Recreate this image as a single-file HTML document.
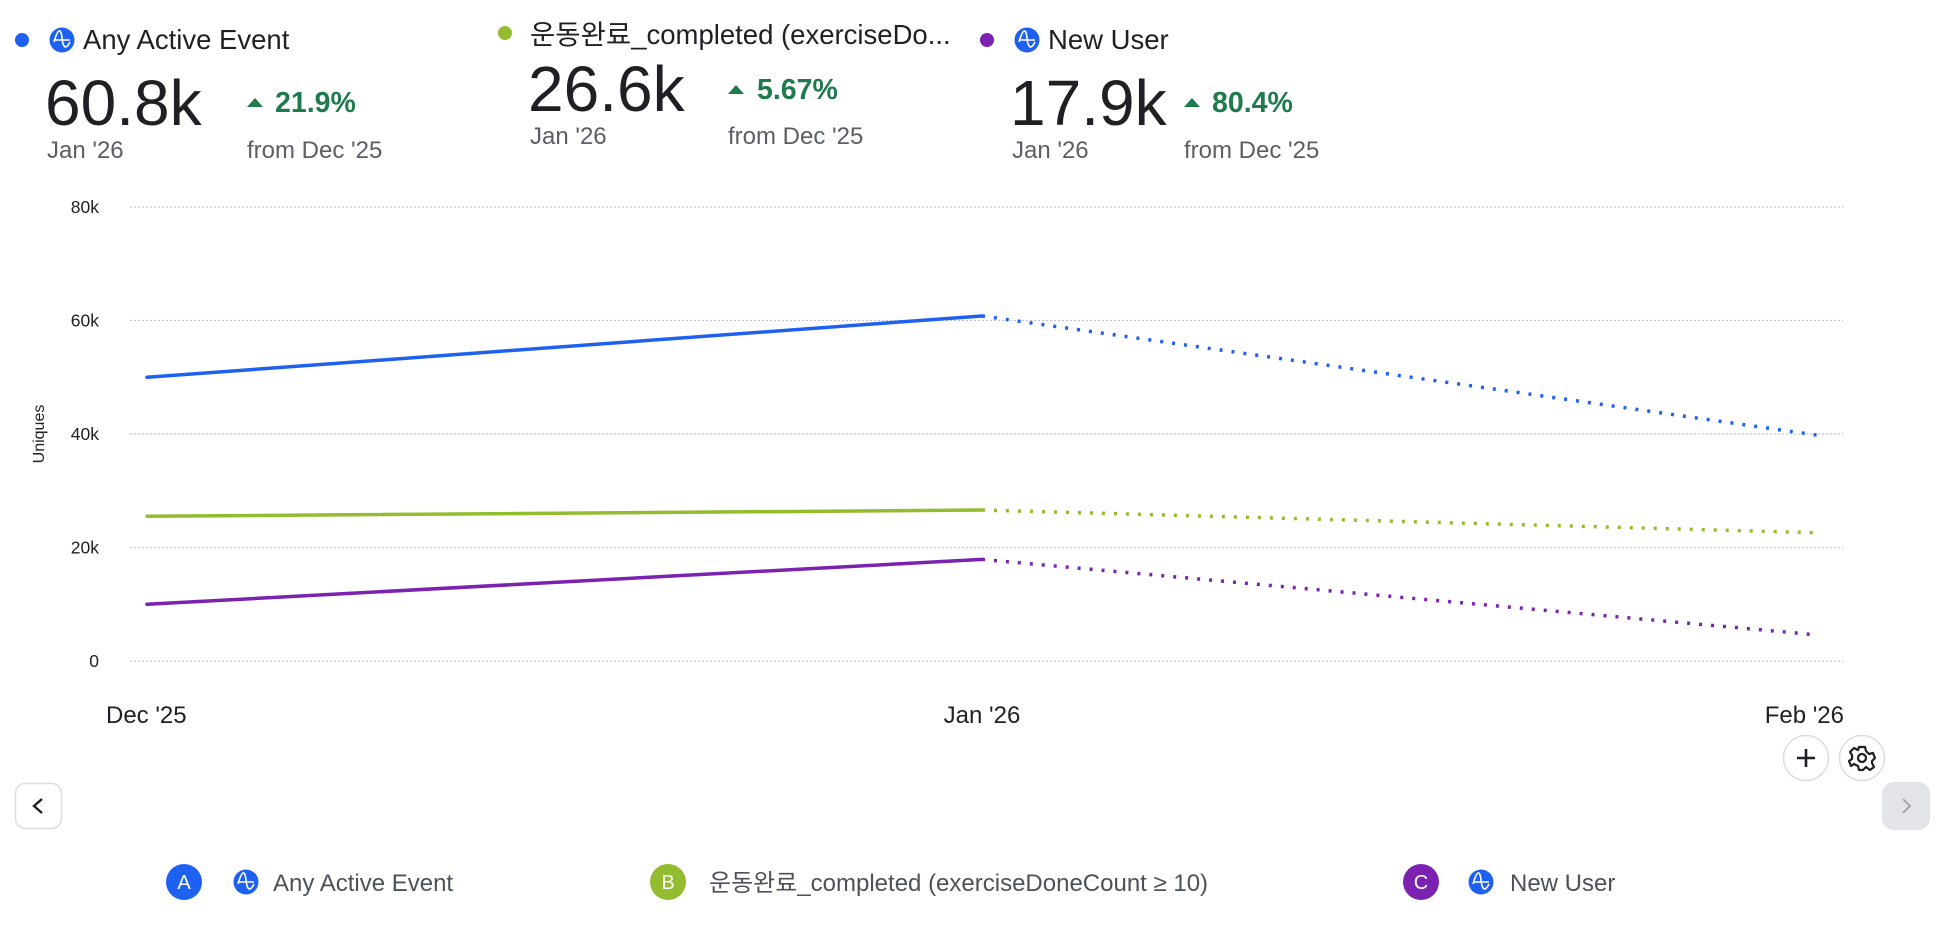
<!DOCTYPE html>
<html><head><meta charset="utf-8"><style>
html,body{margin:0;padding:0;background:#fff;width:1940px;height:928px;overflow:hidden}
svg{display:block;font-family:"Liberation Sans","Noto Sans CJK KR",sans-serif}
</style></head><body>
<svg id="root" width="1940" height="928" viewBox="0 0 1940 928">
<defs>
<g id="amp-icon"><circle r="12.5" fill="#1e61f0"/><path d="M-8,2 C-4,-12 -1,-12 0,-2 S4,10 8,2 M-8,0 H8" stroke="#fff" stroke-width="1.6" fill="none"/></g>
</defs>
<!-- header A -->
<g>
<circle cx="22" cy="40" r="7" fill="#1e61f0"/>
<use href="#amp-icon" x="62" y="40"/>
<text x="83" y="49" font-size="27.5" fill="#1f1f24">Any Active Event</text>
<text x="45" y="125" font-size="64" fill="#1f1f24">60.8k</text>
<text x="47" y="158" font-size="24" fill="#5b5e66">Jan '26</text>
<path d="M247,107 L255,98 L263,107 Z" fill="#1f7a4d"/>
<text x="275" y="112" font-size="28.5" font-weight="bold" fill="#1f7a4d">21.9%</text>
<text x="247" y="158" font-size="24" fill="#5b5e66">from Dec '25</text>
</g>
<!-- header B -->
<g>
<circle cx="505" cy="33" r="7" fill="#93bc30"/>
<text x="530" y="44" font-size="27.5" fill="#1f1f24">운동완료_completed (exerciseDo...</text>
<text x="528" y="111" font-size="64" fill="#1f1f24">26.6k</text>
<text x="530" y="144" font-size="24" fill="#5b5e66">Jan '26</text>
<path d="M728,94 L736,85 L744,94 Z" fill="#1f7a4d"/>
<text x="757" y="99" font-size="28.5" font-weight="bold" fill="#1f7a4d">5.67%</text>
<text x="728" y="144" font-size="24" fill="#5b5e66">from Dec '25</text>
</g>
<!-- header C -->
<g>
<circle cx="987" cy="40" r="7" fill="#7b22b0"/>
<use href="#amp-icon" x="1027" y="40"/>
<text x="1048" y="49" font-size="27.5" fill="#1f1f24">New User</text>
<text x="1010" y="125" font-size="64" fill="#1f1f24">17.9k</text>
<text x="1012" y="158" font-size="24" fill="#5b5e66">Jan '26</text>
<path d="M1184,107 L1192,98 L1200,107 Z" fill="#1f7a4d"/>
<text x="1212" y="112" font-size="28.5" font-weight="bold" fill="#1f7a4d">80.4%</text>
<text x="1184" y="158" font-size="24" fill="#5b5e66">from Dec '25</text>
</g>
<text transform="translate(44,434) rotate(-90)" text-anchor="middle" font-size="16" fill="#1f1f24">Uniques</text>
<g id="plot"></g>
<!-- buttons -->
<g><circle cx="1806" cy="758" r="22.5" fill="#fff" stroke="#dcdde0" stroke-width="1.5"/><path d="M1806,749 V767 M1797,758 H1815" stroke="#1f1f24" stroke-width="2.6"/></g>
<g><circle cx="1862" cy="758" r="22.5" fill="#fff" stroke="#dcdde0" stroke-width="1.5"/>
<g transform="translate(1862,758)" fill="none" stroke="#1f1f24" stroke-width="2.2"><circle r="4"/><path d="M-3,-11 L3,-11 L4,-7 L7,-4 L11,-5 L13,0 L10,3 L10,5 L12,9 L8,12 L4,9 L2,11 L1,12 L-3,12 L-4,8 L-8,6 L-11,8 L-13,3 L-10,1 L-10,-3 L-12,-6 L-8,-10 L-4,-8 Z" stroke-linejoin="round"/></g></g>
<g><rect x="15.5" y="783.5" width="46" height="45" rx="10" fill="#fff" stroke="#dcdde0" stroke-width="1.5"/><path d="M42,799 L34,806 L42,813" fill="none" stroke="#1f1f24" stroke-width="2.4"/></g>
<g><rect x="1882" y="782" width="48" height="48" rx="12" fill="#e3e4e8"/><path d="M1903,799 L1910,806 L1903,813" fill="none" stroke="#a4a6ab" stroke-width="2"/></g>
<!-- legend -->
<g><circle cx="184" cy="882" r="18" fill="#1e61f0"/><text x="184" y="889" text-anchor="middle" font-size="20" fill="#fff">A</text><use href="#amp-icon" x="246" y="882"/><text x="273" y="891" font-size="24" fill="#4d515a">Any Active Event</text></g>
<g><circle cx="668" cy="882" r="18" fill="#93bc30"/><text x="668" y="889" text-anchor="middle" font-size="20" fill="#fff">B</text><text x="709" y="891" font-size="24" fill="#4d515a">운동완료_completed (exerciseDoneCount ≥ 10)</text></g>
<g><circle cx="1421" cy="882" r="18" fill="#7b22b0"/><text x="1421" y="889" text-anchor="middle" font-size="20" fill="#fff">C</text><use href="#amp-icon" x="1481" y="882"/><text x="1510" y="891" font-size="24" fill="#4d515a">New User</text></g>
</svg>
<script>
const categories=["Dec '25","Jan '26","Feb '26"];
const seriesA=[50000,60800,39800];
const seriesB=[25500,26600,22600];
const seriesC=[10000,17900,4600];
const yTicks=[0,20000,40000,60000,80000];
const yTickLabels=["0","20k","40k","60k","80k"];
const colors=["#1e61f0","#93bc30","#7b22b0"];
const NS="http://www.w3.org/2000/svg";
const plot=document.getElementById('plot');
const x0=147,x1=1817,y0=661,yTop=207,yMax=80000;
function xs(i){return x0+(x1-x0)*i/(categories.length-1);}
function ys(v){return y0-(y0-yTop)*v/yMax;}
function mk(t,a){const e=document.createElementNS(NS,t);for(const k in a)e.setAttribute(k,a[k]);plot.appendChild(e);return e;}
yTicks.forEach((v,i)=>{
 const g=mk('line',{x1:130,x2:1843,y1:ys(v),y2:ys(v),stroke:'#c4c6cb','stroke-width':1.2,'stroke-dasharray':'2 2'});
 
 
 const t=mk('text',{x:99,y:ys(v)+6,'text-anchor':'end','font-size':17.5,fill:'#1f1f24'});
 t.textContent=yTickLabels[i];
 
 
});
categories.forEach((c,i)=>{
 const anchor=i===0?'start':(i===categories.length-1?'end':'middle');
 const xx=i===0?xs(i)-41:(i===categories.length-1?xs(i)+27:xs(i));
 const t=mk('text',{x:xx,y:723,'text-anchor':anchor,'font-size':24,fill:'#1f1f24'});
 t.textContent=c;
 
 
});
[seriesA,seriesB,seriesC].forEach((s,k)=>{
 const solid=mk('line',{x1:xs(0),y1:ys(s[0]),x2:xs(1),y2:ys(s[1]),stroke:colors[k],'stroke-width':3.5,'stroke-linecap':'round'});
 
 
 const dot=mk('line',{x1:xs(1),y1:ys(s[1]),x2:xs(2),y2:ys(s[2]),stroke:colors[k],'stroke-width':3.5,'stroke-dasharray':'3 9'});
 
 
});
</script>
</body></html>
